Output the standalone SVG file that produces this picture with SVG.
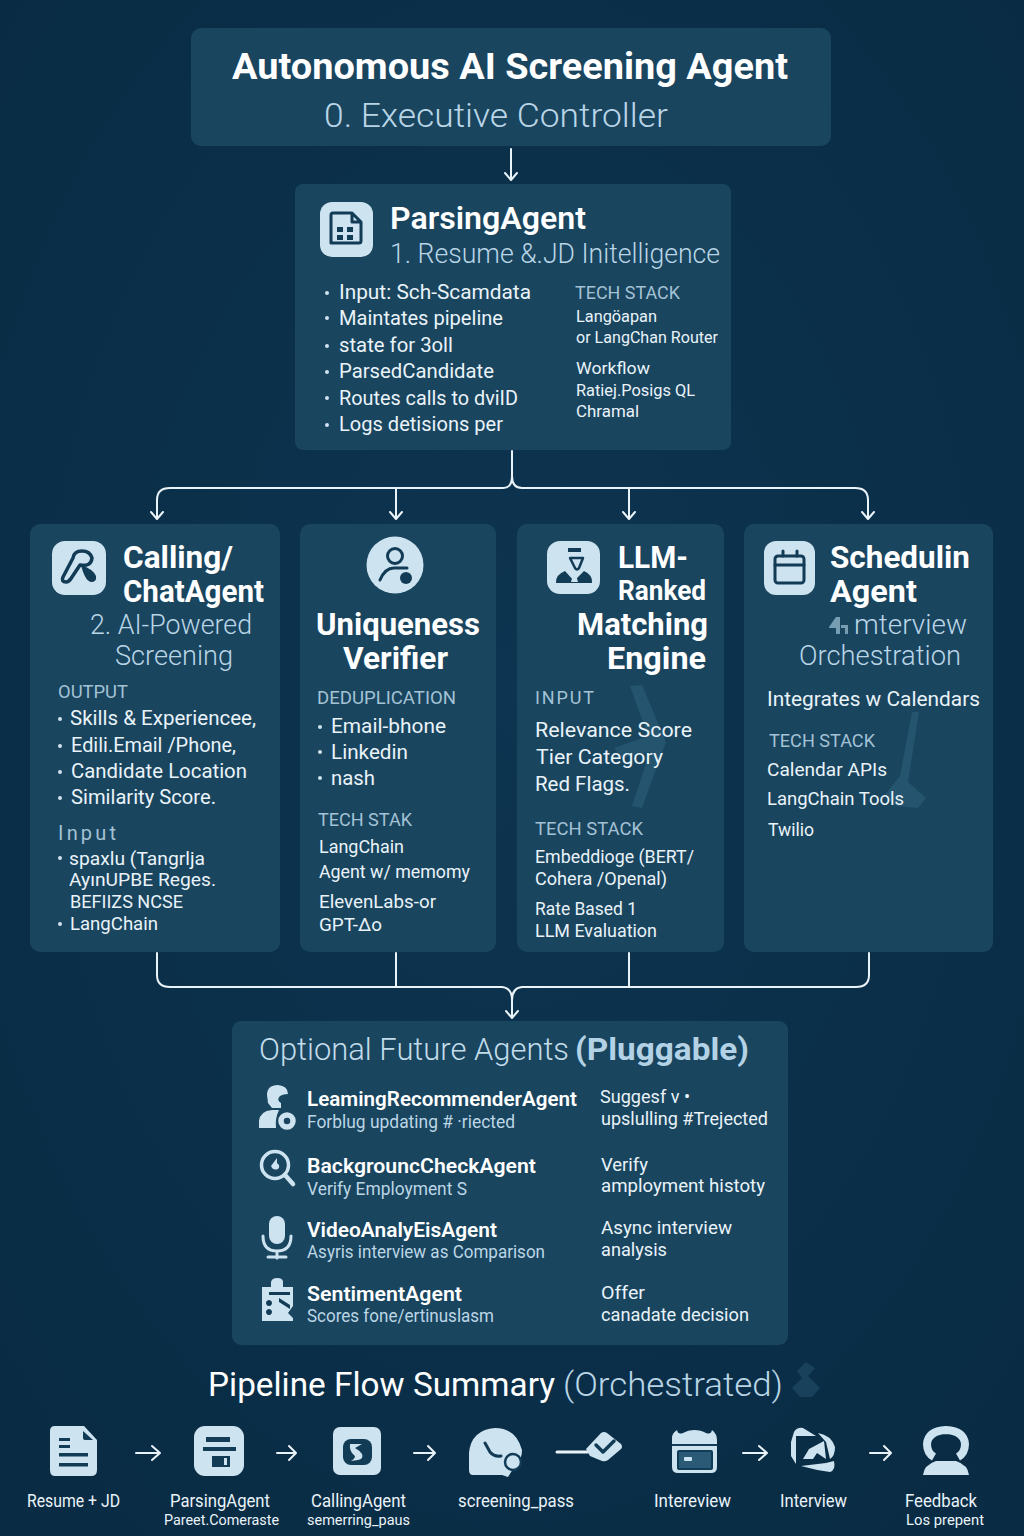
<svg xmlns="http://www.w3.org/2000/svg" width="1024" height="1536" viewBox="0 0 1024 1536">
<style>
text{font-family:Roboto,"Liberation Sans",sans-serif;fill:#e9f3f9}
.card{fill:#19455f}
.t{font-weight:700;fill:#fff;font-size:31px}
.s{fill:#b9d5e6;font-size:27px;font-weight:300}
.h{fill:#a3c2d5;font-size:18px;font-weight:400}
.b{font-size:20.5px}
.m{font-size:18.5px}
.n{font-size:21px;font-weight:600;fill:#fff}
.d{font-size:17.5px;fill:#bcd6e5}
.l{font-size:17.5px}
.x{font-size:14.5px}
.ic{fill:#cde3f0}
.dk{fill:#123b56}
.ln{fill:none;stroke:#123b56;stroke-width:3;stroke-linecap:round;stroke-linejoin:round}
.lnl{fill:none;stroke:#cde3f0;stroke-width:3;stroke-linecap:round;stroke-linejoin:round}
.bul{fill:#cfe2ee}
.c{fill:none;stroke:#eaf3f8;stroke-width:2;stroke-linejoin:round;stroke-linecap:round}
.w{fill:#2f607c;opacity:.55}
</style>
<defs>
<radialGradient id="bg" cx="50%" cy="45%" r="75%"><stop offset="0" stop-color="#0d3450"/><stop offset="1" stop-color="#092b43"/></radialGradient>
</defs>
<rect width="1024" height="1536" fill="url(#bg)"/>

<g id="connectors">
<path class="c" d="M511 149V179M505 173L511 180L517 173"/>
<path class="c" d="M512 451V476Q512 488 503 488H170Q157 488 157 500V518M151 512L157 519L163 512"/>
<path class="c" d="M512 476Q512 488 522 488H855Q868 488 868 500V518M862 512L868 519L874 512"/>
<path class="c" d="M396 488V518M390 512L396 519L402 512"/>
<path class="c" d="M629 488V518M623 512L629 519L635 512"/>
<path class="c" d="M157 953V975Q157 987 170 987H502Q512 988 512 1000V1017M506 1011L512 1018L518 1011"/>
<path class="c" d="M869 953V975Q869 987 856 987H522Q512 988 512 1000"/>
<path class="c" d="M396 953V987M629 953V987"/>
</g>

<g id="executive-controller">
<rect class="card" x="191" y="28" width="640" height="118" rx="10"/>
<text x="232" y="79" font-size="36" font-weight="700" style="fill:#fff" textLength="556" lengthAdjust="spacingAndGlyphs">Autonomous AI Screening Agent</text>
<text x="324" y="127" font-size="33" font-weight="300" style="fill:#b9d5e6" textLength="344" lengthAdjust="spacingAndGlyphs">0. Executive Controller</text>
</g>

<g id="parsing-agent">
<rect class="card" x="295" y="184" width="436" height="266" rx="8"/>
<rect class="ic" x="320" y="202" width="53" height="55" rx="12"/>
<path class="ln" d="M331 243V215Q331 213 333 213H351M352 213V222H361M352 213L361 222V241Q361 243 359 243H333Q331 243 331 241"/>
<path class="dk" d="M337 227h6v5h-6zM347 227h6v5h-6zM337 235h6v5h-6zM347 235h6v5h-6z"/>
<text class="t" x="390" y="229" textLength="196" lengthAdjust="spacingAndGlyphs" style="font-weight:600">ParsingAgent</text>
<text class="s" x="390" y="263" textLength="330" lengthAdjust="spacingAndGlyphs">1. Resume &amp;.JD Initelligence</text>
<g class="bul"><circle cx="327" cy="293" r="2"/><circle cx="327" cy="318" r="2"/><circle cx="327" cy="346" r="2"/><circle cx="327" cy="372" r="2"/><circle cx="327" cy="398" r="2"/><circle cx="327" cy="425" r="2"/></g>
<text class="b" x="339" y="299" textLength="192" lengthAdjust="spacingAndGlyphs">Input: Sch-Scamdata</text>
<text class="b" x="339" y="325" textLength="164" lengthAdjust="spacingAndGlyphs">Maintates pipeline</text>
<text class="b" x="339" y="352" textLength="114" lengthAdjust="spacingAndGlyphs">state for 3oll</text>
<text class="b" x="339" y="378" textLength="155" lengthAdjust="spacingAndGlyphs">ParsedCandidate</text>
<text class="b" x="339" y="405" textLength="179" lengthAdjust="spacingAndGlyphs">Routes calls to dviID</text>
<text class="b" x="339" y="431" textLength="164" lengthAdjust="spacingAndGlyphs">Logs detisions per</text>
<text class="h" x="575" y="299" textLength="105" lengthAdjust="spacingAndGlyphs">TECH STACK</text>
<text x="576" y="322" font-size="16.5" textLength="81" lengthAdjust="spacingAndGlyphs">Langöapan</text>
<text x="576" y="343" font-size="16.5" textLength="142" lengthAdjust="spacingAndGlyphs">or LangChan Router</text>
<text x="576" y="374" font-size="16.5" textLength="74" lengthAdjust="spacingAndGlyphs">Workflow</text>
<text x="576" y="396" font-size="16.5" textLength="119" lengthAdjust="spacingAndGlyphs">Ratiej.Posigs QL</text>
<text x="576" y="417" font-size="16.5" textLength="63" lengthAdjust="spacingAndGlyphs">Chramal</text>
</g>

<g id="calling-chat-agent">
<rect class="card" x="30" y="524" width="250" height="428" rx="10"/>
<rect class="ic" x="52" y="541" width="54" height="54" rx="13"/>
<path d="M63 577Q61 582 66 582Q69 582 72 577L80 565Q91 567 92 558Q90 551 82 551Q74 551 73 558Z" fill="none" stroke="#123b56" stroke-width="3.500" stroke-linejoin="round"/>
<path d="M81 565Q93 569 96 576Q97 582 91 582Q85 581 81 565Z" fill="#123b56"/>
<text class="t" x="123" y="568" textLength="110" lengthAdjust="spacingAndGlyphs">Calling/</text>
<text class="t" x="123" y="602" textLength="141" lengthAdjust="spacingAndGlyphs">ChatAgent</text>
<text class="s" x="90" y="634" textLength="162" lengthAdjust="spacingAndGlyphs">2. AI-Powered</text>
<text class="s" x="115" y="665" textLength="118" lengthAdjust="spacingAndGlyphs">Screening</text>
<text class="h" x="58" y="698" textLength="70" lengthAdjust="spacingAndGlyphs">OUTPUT</text>
<g class="bul"><circle cx="60" cy="719" r="2"/><circle cx="60" cy="746" r="2"/><circle cx="60" cy="772" r="2"/><circle cx="60" cy="798" r="2"/><circle cx="60" cy="858" r="2"/><circle cx="60" cy="924" r="2"/></g>
<text class="b" x="70" y="725" textLength="186" lengthAdjust="spacingAndGlyphs">Skills &amp; Experiencee,</text>
<text class="b" x="71" y="752" textLength="165" lengthAdjust="spacingAndGlyphs">Edili.Email /Phone,</text>
<text class="b" x="71" y="778" textLength="176" lengthAdjust="spacingAndGlyphs">Candidate Location</text>
<text class="b" x="71" y="804" textLength="145" lengthAdjust="spacingAndGlyphs">Similarity Score.</text>
<text class="h" x="58" y="840" style="font-size:20px" textLength="58" lengthAdjust="spacing">Input</text>
<text class="m" x="69" y="865" textLength="136" lengthAdjust="spacingAndGlyphs">spaxlu (Tangrlja</text>
<text class="m" x="69" y="886" textLength="147" lengthAdjust="spacingAndGlyphs">AyınUPBE Reges.</text>
<text class="m" x="70" y="908" textLength="113" lengthAdjust="spacingAndGlyphs">BEFIIZS NCSE</text>
<text class="m" x="70" y="930" textLength="88" lengthAdjust="spacingAndGlyphs">LangChain</text>
</g>

<g id="uniqueness-verifier">
<rect class="card" x="300" y="524" width="196" height="428" rx="10"/>
<circle class="ic" cx="395" cy="565" r="28.500"/>
<circle class="ln" cx="395" cy="556" r="7.500"/>
<path class="ln" d="M380 580Q385 568 394 568H407"/>
<circle class="dk" cx="406" cy="578" r="6"/>
<text class="t" x="316" y="635" textLength="164" lengthAdjust="spacingAndGlyphs">Uniqueness</text>
<text class="t" x="343" y="669" textLength="105" lengthAdjust="spacingAndGlyphs">Verifier</text>
<text class="h" x="317" y="704" textLength="139" lengthAdjust="spacingAndGlyphs">DEDUPLICATION</text>
<g class="bul"><circle cx="320" cy="727" r="2"/><circle cx="320" cy="752" r="2"/><circle cx="320" cy="778" r="2"/></g>
<text class="b" x="331" y="733" textLength="115" lengthAdjust="spacingAndGlyphs">Email-bhone</text>
<text class="b" x="331" y="759" textLength="77" lengthAdjust="spacingAndGlyphs">Linkedin</text>
<text class="b" x="331" y="785" textLength="44" lengthAdjust="spacingAndGlyphs">nash</text>
<text class="h" x="318" y="826" textLength="94" lengthAdjust="spacingAndGlyphs">TECH STAK</text>
<text class="m" x="319" y="853" textLength="85" lengthAdjust="spacingAndGlyphs">LangChain</text>
<text class="m" x="319" y="878" textLength="151" lengthAdjust="spacingAndGlyphs">Agent w/ memomy</text>
<text class="m" x="319" y="908" textLength="117" lengthAdjust="spacingAndGlyphs">ElevenLabs-or</text>
<text class="m" x="319" y="931" textLength="63" lengthAdjust="spacingAndGlyphs">GPT-Δo</text>
</g>

<g id="llm-matching-engine">
<rect class="card" x="517" y="524" width="207" height="428" rx="10"/>
<path class="w" d="M630 686L642 685L666 742L642 808L632 806L650 752L622 758L614 748L648 736Z"/>
<rect class="ic" x="547" y="541" width="53" height="53" rx="13"/>
<path class="dk" d="M568 548H581V552H568Z"/>
<path class="ln" d="M570 558H583L579 568Q577 571 575 568Z" style="stroke-width:2.500"/>
<path class="dk" d="M556 583Q555 575 565 571L574 581L584 571Q593 575 592 583Z"/>
<path class="ic" d="M573 575L576 575L578 582H571Z"/>
<text class="t" x="618" y="568" textLength="70" lengthAdjust="spacingAndGlyphs">LLM-</text>
<text class="t" x="618" y="600" style="font-size:28px" textLength="88" lengthAdjust="spacingAndGlyphs">Ranked</text>
<text class="t" x="577" y="635" textLength="131" lengthAdjust="spacingAndGlyphs">Matching</text>
<text class="t" x="607" y="669" textLength="99" lengthAdjust="spacingAndGlyphs">Engine</text>
<text class="h" x="535" y="704" textLength="59" lengthAdjust="spacing">INPUT</text>
<text class="b" x="535" y="737" textLength="157" lengthAdjust="spacingAndGlyphs">Relevance Score</text>
<text class="b" x="536" y="764" textLength="127" lengthAdjust="spacingAndGlyphs">Tier Category</text>
<text class="b" x="535" y="791" textLength="95" lengthAdjust="spacingAndGlyphs">Red Flags.</text>
<text class="h" x="535" y="835" textLength="108" lengthAdjust="spacingAndGlyphs">TECH STACK</text>
<text class="m" x="535" y="863" textLength="159" lengthAdjust="spacingAndGlyphs">Embeddioge (BERT/</text>
<text class="m" x="535" y="885" textLength="132" lengthAdjust="spacingAndGlyphs">Cohera /Openal)</text>
<text class="m" x="535" y="915" textLength="102" lengthAdjust="spacingAndGlyphs">Rate Based 1</text>
<text class="m" x="535" y="937" textLength="122" lengthAdjust="spacingAndGlyphs">LLM Evaluation</text>
</g>

<g id="scheduling-agent">
<rect class="card" x="744" y="524" width="249" height="428" rx="10"/>
<path class="w" d="M912 712L919 712L908 782L926 798L918 808L896 806L884 796L900 776Z"/>
<rect class="ic" x="764" y="541" width="51" height="54" rx="12"/>
<rect x="775" y="556" width="29" height="27" rx="3" class="ln"/>
<path class="ln" d="M775 565H804M783 551V556M797 551V556"/>
<text class="t" x="830" y="568" textLength="140" lengthAdjust="spacingAndGlyphs">Schedulin</text>
<text class="t" x="830" y="602" textLength="87" lengthAdjust="spacingAndGlyphs">Agent</text>
<path d="M829 627L836 617H840V634H836V628H829ZM841 625H848V634H845V628H841Z" fill="#8fb3c8" opacity=".8"/>
<text class="s" x="854" y="634" textLength="113" lengthAdjust="spacingAndGlyphs">mterview</text>
<text class="s" x="799" y="665" textLength="162" lengthAdjust="spacingAndGlyphs">Orchestration</text>
<text class="b" x="767" y="706" textLength="213" lengthAdjust="spacingAndGlyphs">Integrates w Calendars</text>
<text class="h" x="769" y="747" textLength="106" lengthAdjust="spacingAndGlyphs">TECH STACK</text>
<text class="m" x="767" y="776" textLength="120" lengthAdjust="spacingAndGlyphs">Calendar APIs</text>
<text class="m" x="767" y="805" textLength="137" lengthAdjust="spacingAndGlyphs">LangChain Tools</text>
<text class="m" x="768" y="836" textLength="46" lengthAdjust="spacingAndGlyphs">Twilio</text>
</g>

<g id="optional-future-agents">
<rect class="card" x="232" y="1021" width="556" height="324" rx="9"/>
<text x="259" y="1060" font-size="30.500" font-weight="300" style="fill:#c2dcea" textLength="310" lengthAdjust="spacingAndGlyphs">Optional Future Agents</text>
<text x="575" y="1060" font-size="30.500" font-weight="700" style="fill:#b3d2e5" textLength="174" lengthAdjust="spacingAndGlyphs">(Pluggable)</text>

<g id="learning-recommender-agent">
<path class="ic" d="M267 1095Q267 1085 278 1085Q288 1086 288 1094Q283 1094 280 1096Q276 1100 281 1103V1108H272L268 1103ZM259 1128V1121Q260 1111 272 1110H279Q275 1118 276 1128Z"/>
<circle cx="287" cy="1121" r="6" fill="none" stroke="#cde3f0" stroke-width="5.500"/>
<text class="n" x="307" y="1106" textLength="270" lengthAdjust="spacingAndGlyphs">LeamingRecommenderAgent</text>
<text class="d" x="307" y="1128" textLength="208" lengthAdjust="spacingAndGlyphs">Forblug updating # ·riected</text>
<text class="m" x="600" y="1103" textLength="90" lengthAdjust="spacingAndGlyphs">Suggesf v •</text>
<text class="m" x="601" y="1125" textLength="167" lengthAdjust="spacingAndGlyphs">upslulling #Trejected</text>
</g>

<g id="background-check-agent">
<circle cx="275" cy="1165" r="13.500" fill="none" stroke="#cde3f0" stroke-width="3.500"/>
<path class="lnl" d="M285 1175L293 1184" style="stroke-width:4.500"/>
<path class="ic" d="M277 1158L271 1166Q273 1171 278 1169Q281 1166 277 1163Z"/>
<text class="n" x="307" y="1173" textLength="229" lengthAdjust="spacingAndGlyphs">BackgrouncCheckAgent</text>
<text class="d" x="307" y="1195" textLength="160" lengthAdjust="spacingAndGlyphs">Verify Employment S</text>
<text class="m" x="601" y="1171" textLength="47" lengthAdjust="spacingAndGlyphs">Verify</text>
<text class="m" x="601" y="1192" textLength="164" lengthAdjust="spacingAndGlyphs">amployment histoty</text>
</g>

<g id="video-analysis-agent">
<rect class="ic" x="269" y="1216" width="16" height="28" rx="8"/>
<path class="lnl" d="M263 1236Q263 1251 277 1251Q291 1251 291 1236M277 1251V1258M268 1257H286"/>
<text class="n" x="307" y="1237" textLength="190" lengthAdjust="spacingAndGlyphs">VideoAnalyEisAgent</text>
<text class="d" x="307" y="1258" textLength="238" lengthAdjust="spacingAndGlyphs">Asyris interview as Comparison</text>
<text class="m" x="601" y="1234" textLength="131" lengthAdjust="spacingAndGlyphs">Async interview</text>
<text class="m" x="601" y="1256" textLength="66" lengthAdjust="spacingAndGlyphs">analysis</text>
</g>

<g id="sentiment-agent">
<path class="ic" d="M262 1287H271V1282Q272 1278 277 1278Q283 1278 283 1282V1287H293V1306L288 1313L293 1318V1321H262Z"/>
<path class="dk" d="M269 1292H290V1295H269ZM279 1298L290 1305V1309L279 1302ZM269 1300a3 3 0 1 0 .01 0ZM269 1309a3 3 0 1 0 .01 0Z"/>
<text class="n" x="307" y="1301" textLength="155" lengthAdjust="spacingAndGlyphs">SentimentAgent</text>
<text class="d" x="307" y="1322" textLength="187" lengthAdjust="spacingAndGlyphs">Scores fone/ertinuslasm</text>
<text class="m" x="601" y="1299" textLength="44" lengthAdjust="spacingAndGlyphs">Offer</text>
<text class="m" x="601" y="1321" textLength="148" lengthAdjust="spacingAndGlyphs">canadate decision</text>
</g>
</g>

<g id="pipeline-summary">
<text x="208" y="1396" font-size="33" font-weight="400" style="fill:#fff" textLength="347" lengthAdjust="spacingAndGlyphs">Pipeline Flow Summary</text>
<text x="563" y="1396" font-size="33" font-weight="300" style="fill:#b9d5e6" textLength="220" lengthAdjust="spacingAndGlyphs">(Orchestrated)</text>
<path d="M806 1362L815 1368L808 1376L820 1388L812 1397H800L792 1388L802 1378L797 1371Z" fill="#2f607c" opacity=".4"/>
</g>

<g id="pipeline-connectors">
<path class="c" d="M136 1453H159M152 1446L160 1453L152 1460"/>
<path class="c" d="M277 1453H295M289 1446L296 1453L289 1460"/>
<path class="c" d="M414 1453H434M428 1446L435 1453L428 1460"/>
<path class="lnl" d="M557 1452H588" style="stroke:#eaf3f8;stroke-width:3"/>
<path class="c" d="M743 1453H766M759 1446L767 1453L759 1460"/>
<path class="c" d="M870 1453H890M884 1446L891 1453L884 1460"/>
</g>

<g id="step-resume-jd">
<path class="ic" d="M55 1426H84L97 1440V1470Q97 1476 91 1476H55Q50 1476 50 1470V1431Q50 1426 55 1426Z"/>
<path class="dk" d="M83 1431L93 1440H85Q83 1440 83 1438ZM59 1438h11v3h-11zM59 1445h11v3h-11zM59 1453h29v3.500h-29zM59 1463h29v3.500h-29z"/>
<text class="l" x="27" y="1507" textLength="93" lengthAdjust="spacingAndGlyphs">Resume + JD</text>
</g>
<g id="step-parsing-agent">
<rect class="ic" x="194" y="1426" width="50" height="50" rx="11"/>
<path class="dk" d="M206 1437H230V1442H206ZM203 1447H236V1451H203ZM212 1456H230V1467H212Z"/>
<path class="ic" d="M224 1458H227V1465H224Z"/>
<text class="l" x="170" y="1507" textLength="100" lengthAdjust="spacingAndGlyphs">ParsingAgent</text>
<text class="x" x="164" y="1525" textLength="115" lengthAdjust="spacingAndGlyphs">Pareet.Comeraste</text>
</g>
<g id="step-calling-agent">
<rect class="ic" x="333" y="1427" width="48" height="48" rx="7"/>
<rect class="dk" x="343" y="1439" width="29" height="26" rx="8"/>
<path class="ic" d="M350 1444H362L355 1448Q359 1450 362 1454Q364 1459 358 1460L351 1461Q357 1457 354 1455Q349 1451 350 1444Z"/>
<text class="l" x="311" y="1507" textLength="95" lengthAdjust="spacingAndGlyphs">CallingAgent</text>
<text class="x" x="307" y="1525" textLength="103" lengthAdjust="spacingAndGlyphs">semerring_paus</text>
</g>
<g id="step-screening-pass">
<path class="ic" d="M469 1453Q471 1430 495 1428Q516 1428 522 1450Q522 1458 518 1461L508 1477L502 1475H473Q469 1475 469 1470Z"/>
<path class="ln" d="M485 1443L490 1452Q494 1457 501 1456"/>
<circle cx="513" cy="1462" r="8" class="ic" stroke="#123b56" stroke-width="2.500"/>
<text class="l" x="458" y="1507" textLength="116" lengthAdjust="spacingAndGlyphs">screening_pass</text>
</g>
<g id="step-check">
<path class="ic" d="M586 1449L601 1433Q604 1431 607 1433L621 1444Q623 1447 621 1449L608 1460Q605 1462 602 1461L590 1456Z"/>
<path d="M596 1445L603 1452L614 1441" fill="none" stroke="#123b56" stroke-width="3.500" stroke-linecap="round" stroke-linejoin="round"/>
</g>
<g id="step-intereview">
<path class="ic" d="M677 1430Q678 1435 683 1433Q688 1430 694 1430Q701 1430 706 1433Q711 1435 712 1430Q717 1434 717 1440V1467Q717 1473 711 1473H678Q672 1473 672 1467V1438Q672 1433 677 1430Z"/>
<rect class="dk" x="672" y="1444" width="45" height="2"/>
<rect x="678" y="1451" width="34" height="18" rx="1" fill="#2a5a76" stroke="#123b56" stroke-width="2"/>
<rect class="ic" x="684" y="1457" width="8" height="4" rx="1"/>
<text class="l" x="654" y="1507" textLength="77" lengthAdjust="spacingAndGlyphs">Intereview</text>
</g>
<g id="step-interview">
<path class="ic" d="M794 1432Q797 1427 803 1428L816 1436H796V1464L791 1456V1442Z"/>
<path class="ic" d="M818 1433Q831 1435 835 1447Q835 1456 830 1459L826 1442Z"/>
<path class="ic" d="M801 1466L826 1463L834 1461Q836 1470 830 1472Q815 1470 801 1466Z"/>
<path class="ic" d="M803 1459L809 1449L824 1441L826 1459L817 1453L813 1459Z"/>
<text class="l" x="780" y="1507" textLength="67" lengthAdjust="spacingAndGlyphs">Interview</text>
</g>
<g id="step-feedback">
<path d="M934 1457Q927 1453 927 1444Q928 1431 946 1430Q964 1431 965 1444Q965 1453 958 1457" fill="none" stroke="#cde3f0" stroke-width="8"/>
<path class="ic" d="M923 1475Q924 1465 936 1461H956Q968 1465 969 1475Z"/>
<text class="l" x="905" y="1507" textLength="72" lengthAdjust="spacingAndGlyphs">Feedback</text>
<text class="x" x="906" y="1525" textLength="78" lengthAdjust="spacingAndGlyphs">Los prepent</text>
</g>
</svg>
